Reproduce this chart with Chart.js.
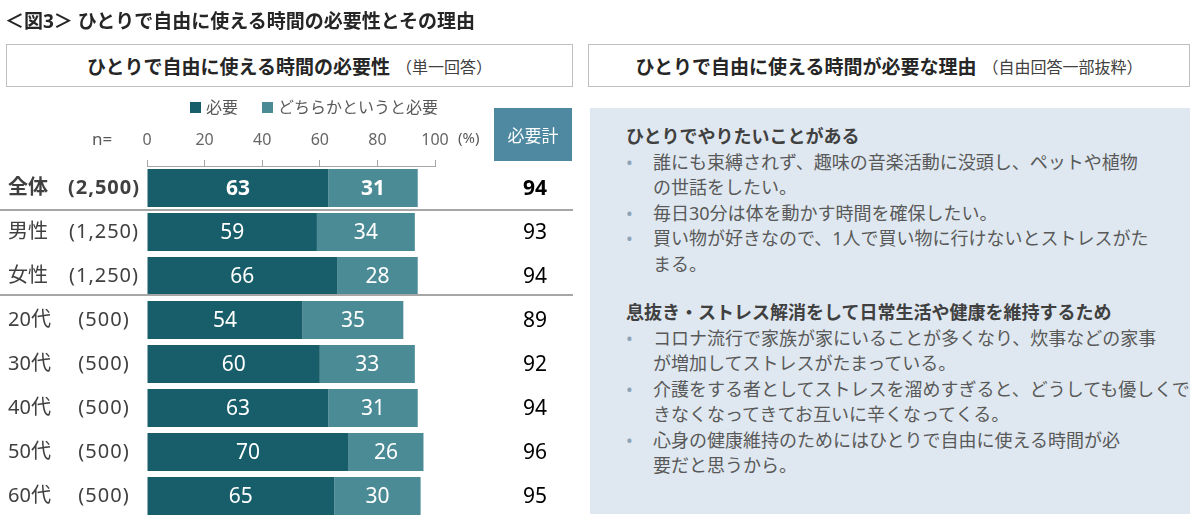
<!DOCTYPE html>
<html lang="ja">
<head>
<meta charset="utf-8">
<script src="https://cdn.jsdelivr.net/npm/chart.js@4.4.1/dist/chart.umd.min.js"></script>
<style>
  body { margin: 0; width: 1200px; height: 522px; background: #fff; position: relative; overflow: hidden;
         font-family: "Noto Sans", "Noto Sans CJK JP", sans-serif; color: #404040; }
  .abs { position: absolute; }
  #title { left: 5px; top: 6px; font-size: 19px; font-weight: bold; color: #262626; white-space: nowrap; }
  .head { border: 1px solid #bfbfbf; background: #fff; box-sizing: border-box; height: 43px; top: 44px;
          display: flex; align-items: center; justify-content: center; white-space: nowrap; color: #262626; }
  .head b { font-size: 19px; }
  .head span { font-size: 16px; margin-left: 6px; color: #404040; }
  #legend { left: 190px; top: 94px; font-size: 16px; color: #595959; white-space: nowrap; }
  #legend i { display: inline-block; width: 11px; height: 11px; margin-right: 5px; vertical-align: 0px; }
  #legend em { display: inline-block; width: 24px; }
  #nlab { left: 92px; top: 127px; font-size: 17px; color: #595959; }
  #pct { left: 458px; top: 127px; font-size: 15px; color: #595959; }
  #sum { left: 494px; top: 108px; width: 78px; height: 53px; background: #4e89a1; color: #fff; font-size: 17px;
         display: flex; align-items: center; justify-content: center; }
  #panel { left: 590px; top: 108px; width: 600px; height: 406px; background: #dfe8f0; box-sizing: border-box;
           padding: 16px 0 0 36px; font-size: 18px; line-height: 25.5px; color: #595959; }
  #panel h4 { margin: 0; font-size: 18px; font-weight: bold; color: #404040; }
  #panel .it { position: relative; padding-left: 27px; white-space: nowrap; }
  #panel .it::before { content: "•"; position: absolute; left: 0; color: #8ea3b8; }
  #panel .gap { margin-top: 23px; }
  #chartWrap { left: 0; top: 0; }
</style>
</head>
<body>
<div id="chartWrap" class="abs"><canvas id="needChart" width="590" height="522"></canvas></div>

<div id="title" class="abs">＜図3＞ ひとりで自由に使える時間の必要性とその理由</div>
<div class="head abs" style="left:6px;width:567px;"><b>ひとりで自由に使える時間の必要性</b><span>（単一回答）</span></div>
<div class="head abs" style="left:588px;width:602px;"><b>ひとりで自由に使える時間が必要な理由</b><span>（自由回答一部抜粋）</span></div>

<div id="legend" class="abs"><i style="background:#175e6a"></i>必要<em></em><i style="background:#4b8b96"></i>どちらかというと必要</div>
<div id="nlab" class="abs">n=</div>
<div id="pct" class="abs">(%)</div>
<div id="sum" class="abs">必要計</div>

<div id="panel" class="abs">
  <h4>ひとりでやりたいことがある</h4>
  <div class="it">誰にも束縛されず、趣味の音楽活動に没頭し、ペットや植物<br>の世話をしたい。</div>
  <div class="it">毎日30分は体を動かす時間を確保したい。</div>
  <div class="it">買い物が好きなので、1人で買い物に行けないとストレスがた<br>まる。</div>
  <h4 class="gap">息抜き・ストレス解消をして日常生活や健康を維持するため</h4>
  <div class="it">コロナ流行で家族が家にいることが多くなり、炊事などの家事<br>が増加してストレスがたまっている。</div>
  <div class="it">介護をする者としてストレスを溜めすぎると、どうしても優しくで<br>きなくなってきてお互いに辛くなってくる。</div>
  <div class="it">心身の健康維持のためにはひとりで自由に使える時間が必<br>要だと思うから。</div>
</div>

<script>
const categories = ['全体', '男性', '女性', '20代', '30代', '40代', '50代', '60代'];
const sampleSizes = ['(2,500)', '(1,250)', '(1,250)', '(500)', '(500)', '(500)', '(500)', '(500)'];
const needed = [63, 59, 66, 54, 60, 63, 70, 65];
const ratherNeeded = [31, 34, 28, 35, 33, 31, 26, 30];
const totals = [94, 93, 94, 89, 92, 94, 96, 95];
const xTicks = [0, 20, 40, 60, 80, 100];

const FONT = '"Noto Sans", "Noto Sans CJK JP", sans-serif';

// row names, n, separators, values in the bars and the total column
const rowLabels = {
  id: 'rowLabels',
  afterDatasetsDraw(chart) {
    const { ctx, scales: { y } } = chart;
    ctx.save();
    ctx.strokeStyle = '#a6a6a6';
    ctx.lineWidth = 2;
    [0.5, 2.43].forEach(v => {
      const py = Math.round(y.getPixelForValue(v));
      ctx.beginPath();
      ctx.moveTo(0, py);
      ctx.lineTo(573, py);
      ctx.stroke();
    });

    ctx.textBaseline = 'middle';
    categories.forEach((name, i) => {
      const py = y.getPixelForValue(i);
      const w = i === 0 ? 'bold ' : '';
      ctx.fillStyle = '#404040';
      ctx.font = `${w}20px ${FONT}`;
      ctx.textAlign = 'left';
      ctx.fillText(name, 8, py);
      ctx.textAlign = 'center';
      ctx.letterSpacing = '1px';
      ctx.fillText(sampleSizes[i], 104, py);
      ctx.letterSpacing = '0px';
      ctx.fillStyle = '#000';
      ctx.font = `${w}21px ${FONT}`;
      ctx.fillText(String(totals[i]), 535, py + 1);
    });

    ctx.fillStyle = '#fff';
    ctx.textAlign = 'center';
    chart.data.datasets.forEach((ds, di) => {
      chart.getDatasetMeta(di).data.forEach((bar, i) => {
        const c = bar.getCenterPoint();
        ctx.font = `${i === 0 ? 'bold ' : ''}21px ${FONT}`;
        ctx.fillText(String(ds.data[i]), c.x, c.y + 1);
      });
    });
    ctx.restore();
  }
};

new Chart(document.getElementById('needChart').getContext('2d'), {
  type: 'bar',
  data: {
    labels: categories,
    datasets: [
      { label: '必要', data: needed, backgroundColor: '#175e6a' },
      { label: 'どちらかというと必要', data: ratherNeeded, backgroundColor: '#4b8b96' }
    ]
  },
  options: {
    indexAxis: 'y',
    responsive: false,
    animation: false,
    layout: { padding: { left: 147, right: 155, top: 126, bottom: 4 } },
    datasets: { bar: { categoryPercentage: 1, barPercentage: 0.864 } },
    plugins: { legend: { display: false }, tooltip: { enabled: false } },
    scales: {
      x: {
        position: 'top',
        stacked: true,
        min: 0,
        max: 100,
        afterBuildTicks: scale => { scale.ticks = xTicks.map(v => ({ value: v })); },
        afterFit: scale => { scale.height = 40; },
        grid: { drawOnChartArea: false, drawTicks: true, tickLength: 6, color: '#a6a6a6' },
        border: { display: true, color: '#a6a6a6', width: 1 },
        ticks: { padding: 10, color: '#666', font: { size: 16, family: FONT } }
      },
      y: {
        stacked: true,
        display: false
      }
    }
  },
  plugins: [rowLabels]
});
</script>
</body>
</html>
